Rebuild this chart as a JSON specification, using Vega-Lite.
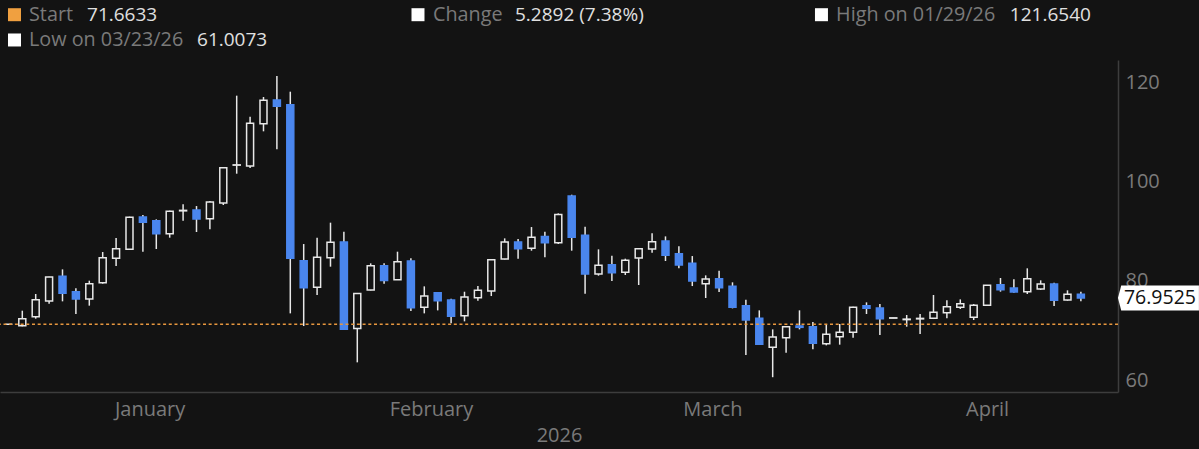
{
  "$schema": "https://vega.github.io/schema/vega-lite/v6.json",
  "width": 1118,
  "height": 332,
  "autosize": "none",
  "padding": {"left": 0, "top": 60, "right": 81, "bottom": 57},
  "background": "#131313",
  "config": {"view": {"stroke": null}, "font": "Open Sans"},
  "datasets": {
    "candles": [
      {"t":0,"open":71.66,"high":71.7,"low":71.62,"close":71.66},
      {"t":1,"open":71.38,"high":74.4,"low":71.25,"close":72.79},
      {"t":2,"open":73.19,"high":77.76,"low":72.79,"close":76.62},
      {"t":3,"open":76.35,"high":81.25,"low":75.81,"close":81.2},
      {"t":4,"open":81.31,"high":82.72,"low":76.28,"close":77.89},
      {"t":5,"open":78.23,"high":78.9,"low":73.73,"close":76.75},
      {"t":6,"open":76.75,"high":80.44,"low":75.41,"close":79.84},
      {"t":7,"open":80.04,"high":86.21,"low":79.84,"close":85.07},
      {"t":8,"open":84.94,"high":89.03,"low":83.39,"close":86.88},
      {"t":9,"open":86.75,"high":93.33,"low":86.68,"close":93.19},
      {"t":10,"open":93.26,"high":93.66,"low":86.28,"close":92.19},
      {"t":11,"open":92.52,"high":92.79,"low":86.82,"close":89.9},
      {"t":12,"open":89.9,"high":94.54,"low":89.1,"close":94.4},
      {"t":13,"open":94.5,"high":95.81,"low":92.52,"close":94.6},
      {"t":14,"open":94.67,"high":95.47,"low":90.24,"close":92.86},
      {"t":15,"open":92.92,"high":96.48,"low":90.78,"close":96.28},
      {"t":16,"open":96.08,"high":103.33,"low":95.68,"close":103.19},
      {"t":17,"open":103.7,"high":117.69,"low":101.98,"close":103.76},
      {"t":18,"open":103.53,"high":113.46,"low":103.12,"close":112.12},
      {"t":19,"open":112.05,"high":117.42,"low":110.51,"close":116.75},
      {"t":20,"open":116.82,"high":121.654,"low":106.88,"close":115.54},
      {"t":21,"open":115.88,"high":118.49,"low":73.86,"close":84.94},
      {"t":22,"open":84.47,"high":87.82,"low":71.31,"close":79.03},
      {"t":23,"open":79.1,"high":89.1,"low":77.55,"close":85.14},
      {"t":24,"open":85.07,"high":92.12,"low":83.26,"close":88.16},
      {"t":25,"open":88.23,"high":90.31,"low":70.64,"close":70.66},
      {"t":26,"open":70.8,"high":77.9,"low":64,"close":77.85},
      {"t":27,"open":78.56,"high":83.93,"low":78.49,"close":83.46},
      {"t":28,"open":83.46,"high":83.93,"low":79.83,"close":80.5},
      {"t":29,"open":80.64,"high":86.28,"low":80.6,"close":84.26},
      {"t":30,"open":84.4,"high":84.94,"low":74.33,"close":75},
      {"t":31,"open":75.07,"high":79.3,"low":73.86,"close":77.35},
      {"t":32,"open":78.02,"high":78.09,"low":74.46,"close":76.41},
      {"t":33,"open":76.54,"high":76.81,"low":71.85,"close":73.26},
      {"t":34,"open":73.39,"high":78.22,"low":72.25,"close":77.15},
      {"t":35,"open":77.02,"high":79.36,"low":76.41,"close":78.49},
      {"t":36,"open":78.36,"high":84.73,"low":77.35,"close":84.67},
      {"t":37,"open":84.8,"high":88.96,"low":84.73,"close":88.22},
      {"t":38,"open":88.22,"high":88.83,"low":84.87,"close":86.88},
      {"t":39,"open":86.95,"high":91.24,"low":86.48,"close":89.16},
      {"t":40,"open":89.36,"high":90.3,"low":85.14,"close":88.09},
      {"t":41,"open":88.09,"high":93.99,"low":87.82,"close":93.79},
      {"t":42,"open":97.49,"high":97.75,"low":86.48,"close":89.16},
      {"t":43,"open":89.57,"high":91.31,"low":77.82,"close":81.78},
      {"t":44,"open":81.78,"high":86.75,"low":81.45,"close":83.53},
      {"t":45,"open":83.66,"high":85.47,"low":80.37,"close":82.05},
      {"t":46,"open":82.12,"high":84.87,"low":81.58,"close":84.53},
      {"t":47,"open":85,"high":87.02,"low":79.57,"close":86.88},
      {"t":48,"open":86.81,"high":89.97,"low":86.08,"close":88.29},
      {"t":49,"open":88.42,"high":89.36,"low":84.4,"close":85.54},
      {"t":50,"open":85.87,"high":87.35,"low":82.92,"close":83.59},
      {"t":51,"open":83.93,"high":85.4,"low":79.36,"close":80.37},
      {"t":52,"open":79.83,"high":81.51,"low":76.95,"close":80.77},
      {"t":53,"open":80.84,"high":82.45,"low":78.16,"close":79.03},
      {"t":54,"open":79.3,"high":80.11,"low":74.87,"close":75.07},
      {"t":55,"open":75.41,"high":76.62,"low":65.48,"close":72.52},
      {"t":56,"open":72.86,"high":74.47,"low":67.49,"close":67.62},
      {"t":57,"open":67.02,"high":70.64,"low":61.0073,"close":69.1},
      {"t":58,"open":68.97,"high":71.32,"low":65.95,"close":71.18},
      {"t":59,"open":71.32,"high":74.47,"low":70.64,"close":71.05},
      {"t":60,"open":71.18,"high":72.12,"low":66.62,"close":67.82},
      {"t":61,"open":67.76,"high":71.72,"low":67.42,"close":69.64},
      {"t":62,"open":69.17,"high":71.72,"low":67.56,"close":70.04},
      {"t":63,"open":70.04,"high":75.21,"low":68.97,"close":75.07},
      {"t":64,"open":75.41,"high":76.08,"low":73.73,"close":74.87},
      {"t":65,"open":74.94,"high":75.74,"low":69.5,"close":72.79},
      {"t":66,"open":72.9,"high":72.96,"low":72.9,"close":72.96},
      {"t":67,"open":72.6,"high":73.53,"low":71.18,"close":72.7},
      {"t":68,"open":72.75,"high":73.73,"low":69.7,"close":72.85},
      {"t":69,"open":72.86,"high":77.56,"low":72.72,"close":74.07},
      {"t":70,"open":74,"high":76.48,"low":72.86,"close":75.21},
      {"t":71,"open":75.07,"high":76.68,"low":74.74,"close":75.81},
      {"t":72,"open":73.06,"high":75.74,"low":72.52,"close":75.48},
      {"t":73,"open":75.48,"high":79.57,"low":75.41,"close":79.5},
      {"t":74,"open":79.64,"high":80.98,"low":78.23,"close":78.63},
      {"t":75,"open":78.97,"high":80.71,"low":78.03,"close":78.16},
      {"t":76,"open":78.23,"high":82.93,"low":77.76,"close":80.84},
      {"t":77,"open":78.76,"high":80.51,"low":78.56,"close":79.77},
      {"t":78,"open":79.77,"high":80.04,"low":75.34,"close":76.48},
      {"t":79,"open":76.55,"high":78.5,"low":76.41,"close":77.69},
      {"t":80,"open":77.69,"high":78.23,"low":76.28,"close":76.9525}
    ]
  },
  "data": {"name": "candles"},
  "layer": [
    {
      "mark": {"type": "rule", "color": "#e8e8e8", "strokeWidth": 1.5},
      "encoding": {
        "x": {
          "field": "t",
          "type": "quantitative",
          "title": "2026",
          "scale": {"domain": [-0.664, 82.77], "nice": false, "zero": false, "padding": 0},
          "axis": {
            "values": [10.5, 31.5, 52.5, 73],
            "labelExpr": "datum.value < 20 ? 'January' : datum.value < 40 ? 'February' : datum.value < 60 ? 'March' : 'April'",
            "grid": false,
            "ticks": false,
            "domainColor": "#3d3d3d",
            "domainWidth": 1.5,
            "labelColor": "#7a7a7a",
            "labelFontSize": 20,
            "labelPadding": 7,
            "labelOverlap": false,
            "titleColor": "#7a7a7a",
            "titleFontSize": 20,
            "titleFontWeight": "normal",
            "titlePadding": 6
          }
        },
        "y": {
          "field": "low",
          "type": "quantitative",
          "title": null,
          "scale": {"domain": [58.03, 124.87], "nice": false, "zero": false},
          "axis": {
            "orient": "right",
            "values": [60, 80, 100, 120],
            "grid": false,
            "ticks": false,
            "domainColor": "#3d3d3d",
            "domainWidth": 1.5,
            "labelColor": "#7a7a7a",
            "labelFontSize": 20,
            "labelPadding": 7,
            "labelOffset": -2
          }
        },
        "y2": {"field": "high"}
      }
    },
    {
      "mark": {"type": "bar", "size": 7, "strokeWidth": 1.5},
      "encoding": {
        "x": {"field": "t", "type": "quantitative"},
        "y": {"field": "open", "type": "quantitative"},
        "y2": {"field": "close"},
        "fill": {"condition": {"test": "datum.close < datum.open", "value": "#4a86ee"}, "value": "#131313"},
        "stroke": {"condition": {"test": "datum.close < datum.open", "value": "#4a86ee"}, "value": "#e8e8e8"}
      }
    },
    {
      "data": {"values": [{"series": "Start", "price": 71.6633}]},
      "mark": {"type": "rule", "color": "#e8973f", "strokeWidth": 1.5, "strokeDash": [3, 2.7]},
      "encoding": {"y": {"field": "price", "type": "quantitative"}}
    },
    {
      "data": {"values": [{"item": "Start"}]},
      "mark": {"type": "point", "shape": "square", "filled": true, "size": 169, "opacity": 1, "color": "#f0a040"},
      "encoding": {"x": {"datum": 0.42, "type": "quantitative"}, "y": {"datum": 133.99, "type": "quantitative"}}
    },
    {
      "data": {"values": [{"item": "Start"}]},
      "mark": {"type": "text", "align": "left", "baseline": "middle", "fontSize": 19.8, "color": "#7a7a7a"},
      "encoding": {"x": {"datum": 1.5, "type": "quantitative"}, "y": {"datum": 133.99, "type": "quantitative"}, "text": {"field": "item"}}
    },
    {
      "data": {"values": [{"value": "71.6633"}]},
      "mark": {"type": "text", "align": "left", "baseline": "middle", "fontSize": 19, "color": "#e0e0e0"},
      "encoding": {"x": {"datum": 5.83, "type": "quantitative"}, "y": {"datum": 133.99, "type": "quantitative"}, "text": {"field": "value"}}
    },
    {
      "data": {"values": [{"item": "Change"}]},
      "mark": {"type": "point", "shape": "square", "filled": true, "size": 169, "opacity": 1, "color": "#ffffff"},
      "encoding": {"x": {"datum": 30.53, "type": "quantitative"}, "y": {"datum": 133.99, "type": "quantitative"}}
    },
    {
      "data": {"values": [{"item": "Change"}]},
      "mark": {"type": "text", "align": "left", "baseline": "middle", "fontSize": 19.8, "color": "#7a7a7a"},
      "encoding": {"x": {"datum": 31.65, "type": "quantitative"}, "y": {"datum": 133.99, "type": "quantitative"}, "text": {"field": "item"}}
    },
    {
      "data": {"values": [{"value": "5.2892 (7.38%)"}]},
      "mark": {"type": "text", "align": "left", "baseline": "middle", "fontSize": 19, "color": "#e0e0e0"},
      "encoding": {"x": {"datum": 37.77, "type": "quantitative"}, "y": {"datum": 133.99, "type": "quantitative"}, "text": {"field": "value"}}
    },
    {
      "data": {"values": [{"item": "High on 01/29/26"}]},
      "mark": {"type": "point", "shape": "square", "filled": true, "size": 169, "opacity": 1, "color": "#ffffff"},
      "encoding": {"x": {"datum": 60.64, "type": "quantitative"}, "y": {"datum": 133.99, "type": "quantitative"}}
    },
    {
      "data": {"values": [{"item": "High on 01/29/26"}]},
      "mark": {"type": "text", "align": "left", "baseline": "middle", "fontSize": 19.8, "color": "#7a7a7a"},
      "encoding": {"x": {"datum": 61.73, "type": "quantitative"}, "y": {"datum": 133.99, "type": "quantitative"}, "text": {"field": "item"}}
    },
    {
      "data": {"values": [{"value": "121.6540"}]},
      "mark": {"type": "text", "align": "left", "baseline": "middle", "fontSize": 19, "color": "#e0e0e0"},
      "encoding": {"x": {"datum": 74.7, "type": "quantitative"}, "y": {"datum": 133.99, "type": "quantitative"}, "text": {"field": "value"}}
    },
    {
      "data": {"values": [{"item": "Low on 03/23/26"}]},
      "mark": {"type": "point", "shape": "square", "filled": true, "size": 169, "opacity": 1, "color": "#ffffff"},
      "encoding": {"x": {"datum": 0.42, "type": "quantitative"}, "y": {"datum": 128.9, "type": "quantitative"}}
    },
    {
      "data": {"values": [{"item": "Low on 03/23/26"}]},
      "mark": {"type": "text", "align": "left", "baseline": "middle", "fontSize": 19.8, "color": "#7a7a7a"},
      "encoding": {"x": {"datum": 1.5, "type": "quantitative"}, "y": {"datum": 128.9, "type": "quantitative"}, "text": {"field": "item"}}
    },
    {
      "data": {"values": [{"value": "61.0073"}]},
      "mark": {"type": "text", "align": "left", "baseline": "middle", "fontSize": 19, "color": "#e0e0e0"},
      "encoding": {"x": {"datum": 14.04, "type": "quantitative"}, "y": {"datum": 128.9, "type": "quantitative"}, "text": {"field": "value"}}
    },
    {
      "data": {"values": [{"last": 76.9525, "label": "76.9525"}]},
      "mark": {"type": "point", "shape": "M-1,0L-0.92,-0.31L1,-0.31L1,0.31L-0.92,0.31Z", "filled": true, "size": 6561, "opacity": 1, "color": "#ffffff"},
      "encoding": {"x": {"datum": 85.79, "type": "quantitative"}, "y": {"field": "last", "type": "quantitative"}}
    },
    {
      "data": {"values": [{"last": 76.9525, "label": "76.9525"}]},
      "mark": {"type": "text", "align": "center", "baseline": "middle", "fontSize": 19.5, "color": "#111111"},
      "encoding": {"x": {"datum": 85.9, "type": "quantitative"}, "y": {"field": "last", "type": "quantitative"}, "text": {"field": "label"}}
    }
  ]
}
